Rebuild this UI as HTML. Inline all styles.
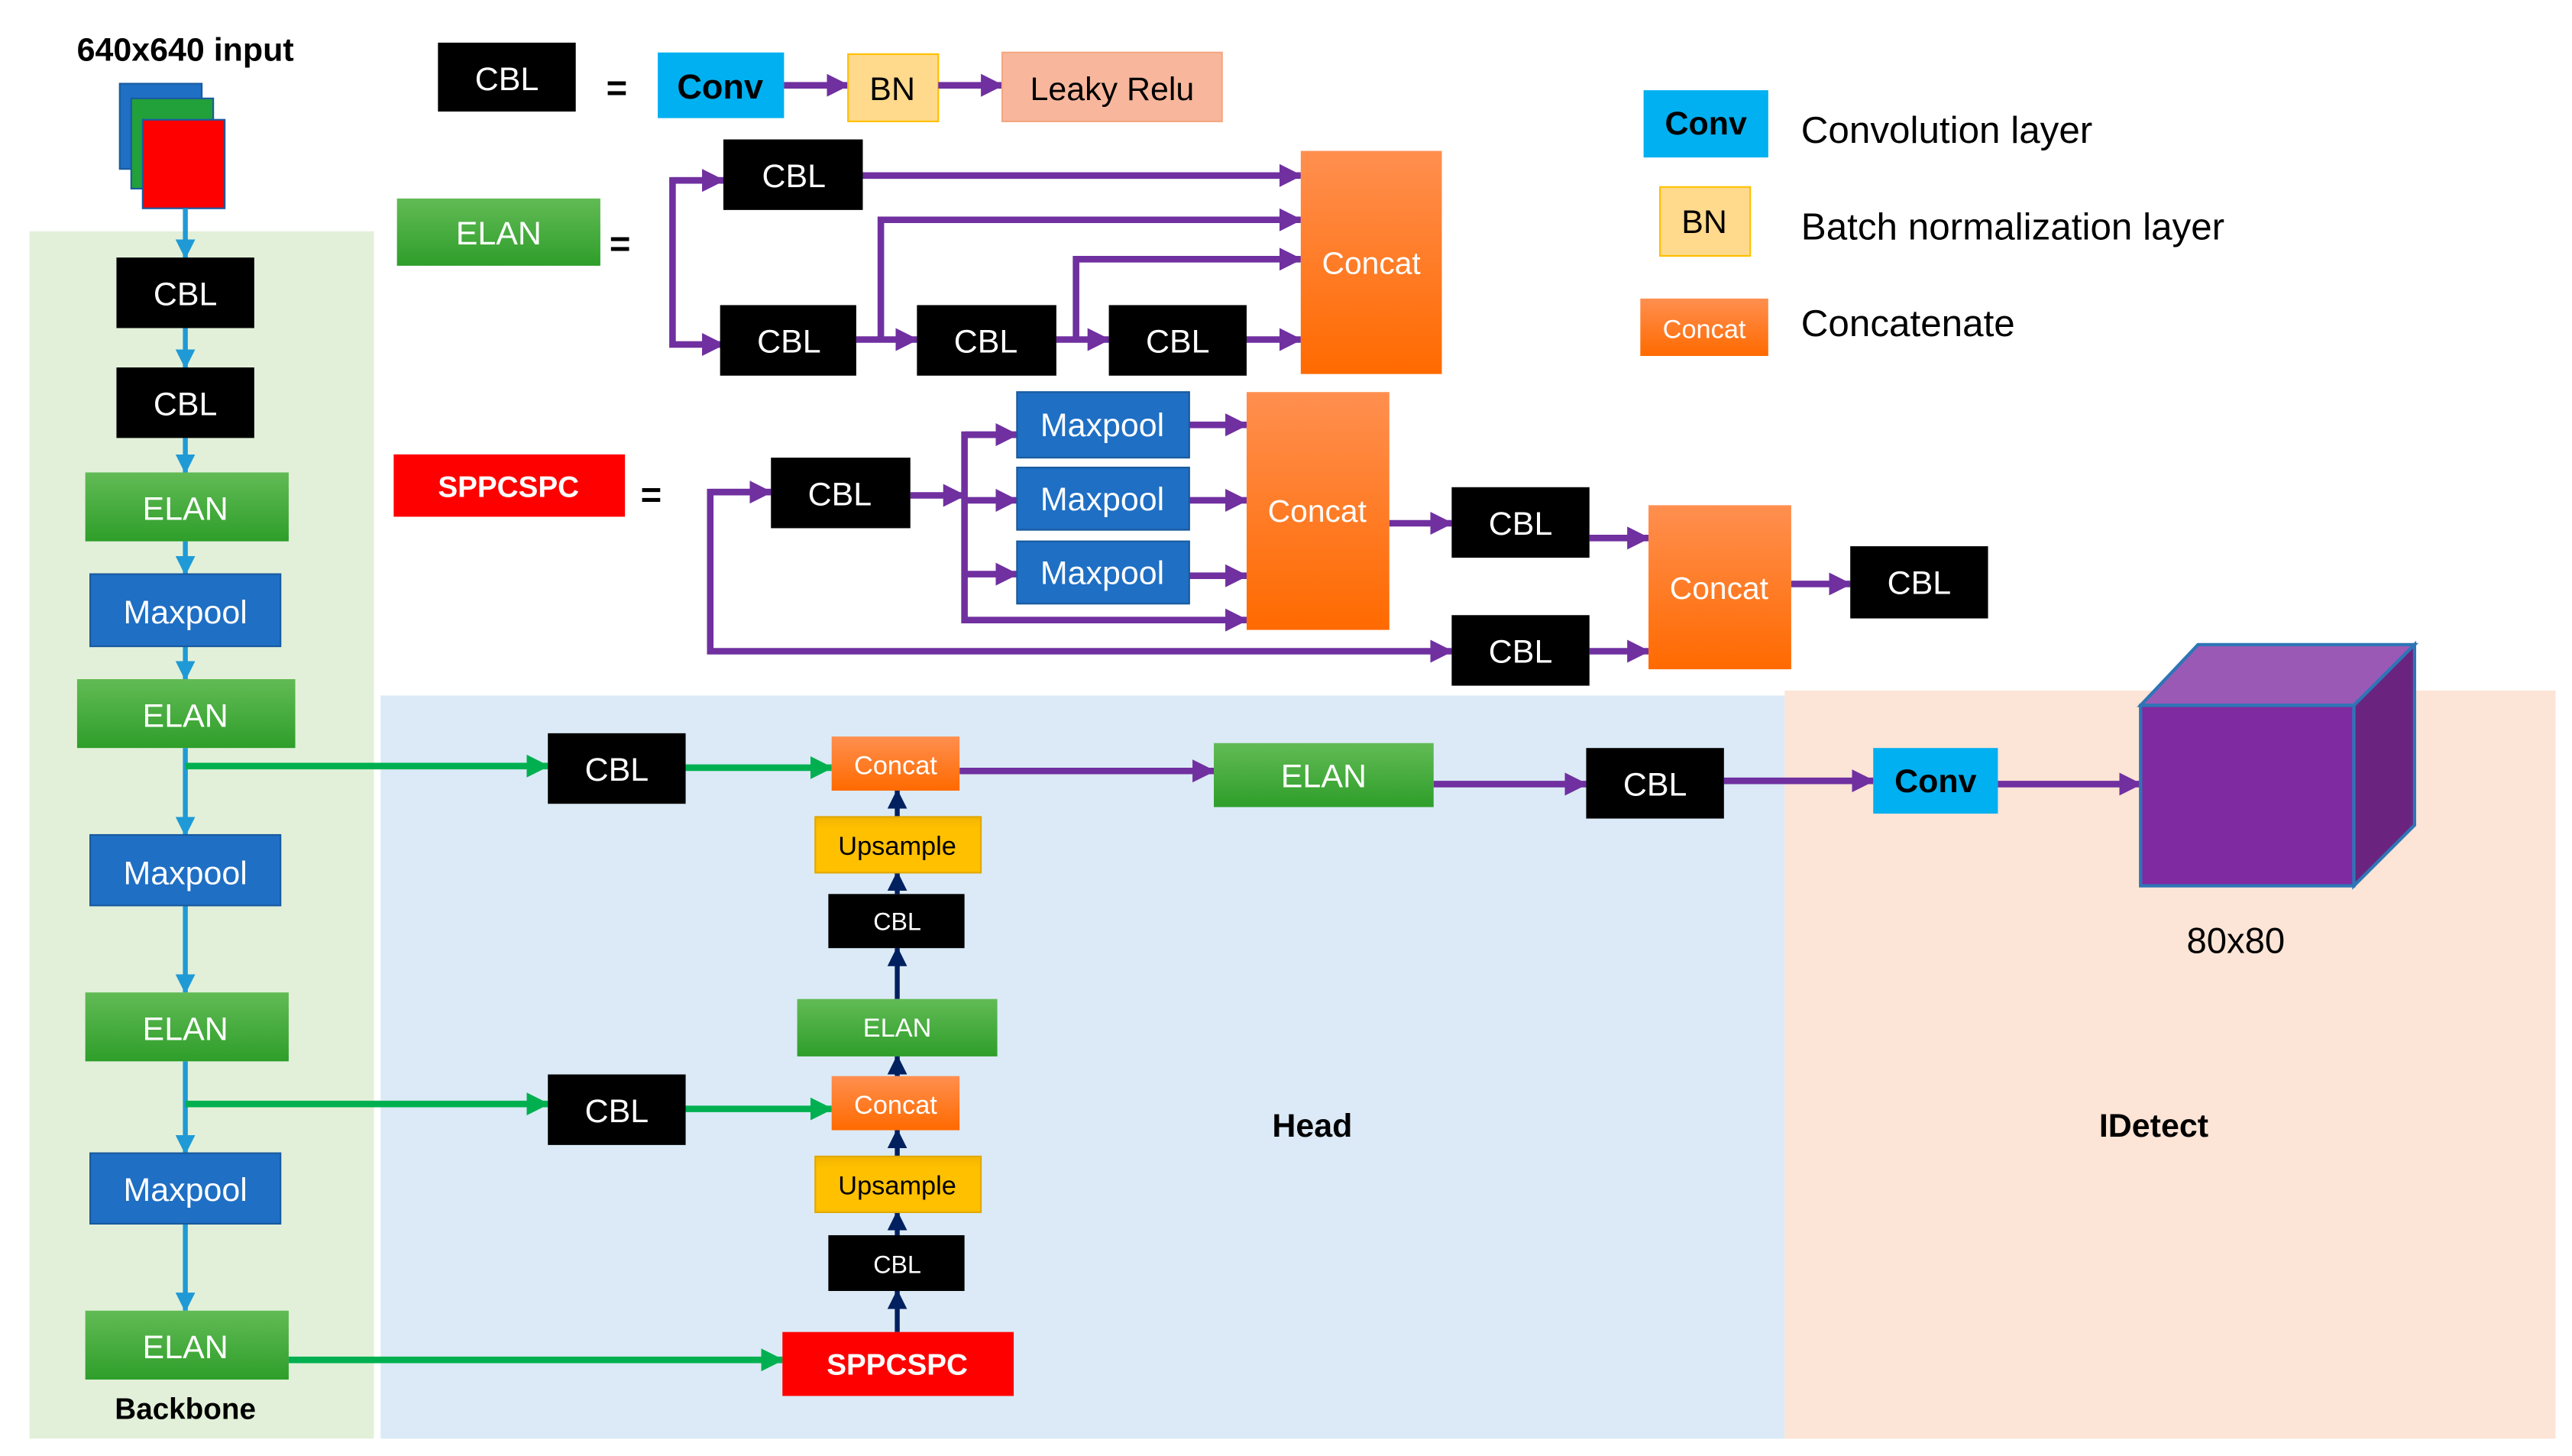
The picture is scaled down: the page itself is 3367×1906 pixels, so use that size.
<!DOCTYPE html>
<html><head><meta charset="utf-8"><style>
html,body{margin:0;padding:0;background:#fff;}
svg{display:block;}
text{font-family:"Liberation Sans",sans-serif;}
</style></head><body>
<svg width="3367" height="1906" viewBox="0 0 1568 887.6" preserveAspectRatio="none" xmlns="http://www.w3.org/2000/svg">
<defs>
<linearGradient id="gG" x1="0" y1="0" x2="0" y2="1"><stop offset="0" stop-color="#62bb55"/><stop offset="1" stop-color="#2e9e2a"/></linearGradient>
<linearGradient id="gO" x1="0" y1="0" x2="0" y2="1"><stop offset="0" stop-color="#ff8f4f"/><stop offset="1" stop-color="#ff6a00"/></linearGradient>
<linearGradient id="gY" x1="0" y1="0" x2="0" y2="1"><stop offset="0" stop-color="#f2b400"/><stop offset="0.2" stop-color="#ffc000"/><stop offset="1" stop-color="#ffc000"/></linearGradient>
<marker id="mP" markerUnits="userSpaceOnUse" markerWidth="14" markerHeight="14" refX="13" refY="7" orient="auto"><path d="M0,0 L14,7 L0,14 z" fill="#7030a0"/></marker>
<marker id="mG" markerUnits="userSpaceOnUse" markerWidth="14" markerHeight="14" refX="13" refY="7" orient="auto"><path d="M0,0 L14,7 L0,14 z" fill="#00b050"/></marker>
<marker id="mB" markerUnits="userSpaceOnUse" markerWidth="12" markerHeight="12" refX="11" refY="6" orient="auto"><path d="M0,0 L12,6 L0,12 z" fill="#1f9ad6"/></marker>
<marker id="mN" markerUnits="userSpaceOnUse" markerWidth="12" markerHeight="12" refX="11" refY="6" orient="auto"><path d="M0,0 L12,6 L0,12 z" fill="#002060"/></marker>
</defs>

<!-- panels -->
<rect x="18" y="141" width="210" height="736" fill="#e2f0d9"/>
<rect x="232" y="424" width="856" height="453" fill="#dbeaf6"/>
<rect x="1088" y="421" width="470" height="456" fill="#fce4d6"/>

<!-- input -->
<text x="113" y="37" font-size="20" font-weight="bold" text-anchor="middle">640x640 input</text>
<rect x="73" y="51" width="50" height="52" fill="#1f6fc4" stroke="#1a5aa0"/>
<rect x="80" y="60" width="50" height="55" fill="#22a03a" stroke="#1a5aa0"/>
<rect x="87" y="73" width="50" height="54" fill="#ff0000" stroke="#1a5aa0"/>

<!-- backbone arrows -->
<g stroke="#1f9ad6" stroke-width="3" fill="none" marker-end="url(#mB)">
<line x1="113" y1="127" x2="113" y2="157"/>
<line x1="113" y1="200" x2="113" y2="224"/>
<line x1="113" y1="267" x2="113" y2="288"/>
<line x1="113" y1="330" x2="113" y2="350"/>
<line x1="113" y1="394" x2="113" y2="414"/>
<line x1="113" y1="456" x2="113" y2="509"/>
<line x1="113" y1="552" x2="113" y2="605"/>
<line x1="113" y1="647" x2="113" y2="703"/>
<line x1="113" y1="746" x2="113" y2="799"/>
</g>

<!-- backbone nodes -->
<g font-size="20" text-anchor="middle" fill="#fff">
<rect x="71" y="157" width="84" height="43" fill="#000"/><text x="113" y="186">CBL</text>
<rect x="71" y="224" width="84" height="43" fill="#000"/><text x="113" y="253">CBL</text>
<rect x="52" y="288" width="124" height="42" fill="url(#gG)"/><text x="113" y="317">ELAN</text>
<rect x="55" y="350" width="116" height="44" fill="#1f6fc4" stroke="#185a9e"/><text x="113" y="380">Maxpool</text>
<rect x="47" y="414" width="133" height="42" fill="url(#gG)"/><text x="113" y="443">ELAN</text>
<rect x="55" y="509" width="116" height="43" fill="#1f6fc4" stroke="#185a9e"/><text x="113" y="539">Maxpool</text>
<rect x="52" y="605" width="124" height="42" fill="url(#gG)"/><text x="113" y="634">ELAN</text>
<rect x="55" y="703" width="116" height="43" fill="#1f6fc4" stroke="#185a9e"/><text x="113" y="732">Maxpool</text>
<rect x="52" y="799" width="124" height="42" fill="url(#gG)"/><text x="113" y="828">ELAN</text>
</g>
<text x="113" y="865" font-size="18" font-weight="bold" text-anchor="middle">Backbone</text>

<!-- CBL legend -->
<rect x="267" y="26" width="84" height="42" fill="#000"/><text x="309" y="55" font-size="20" fill="#fff" text-anchor="middle">CBL</text>
<text x="376" y="61" font-size="22" font-weight="bold" text-anchor="middle">=</text>
<rect x="401" y="32" width="77" height="40" fill="#00b0f0"/><text x="439" y="60" font-size="21" font-weight="bold" text-anchor="middle">Conv</text>
<line x1="478" y1="52" x2="517" y2="52" stroke="#7030a0" stroke-width="4" marker-end="url(#mP)"/>
<rect x="517" y="33" width="55" height="41" fill="#ffd98c" stroke="#ffc000"/><text x="544" y="61" font-size="20" text-anchor="middle">BN</text>
<line x1="572" y1="52" x2="611" y2="52" stroke="#7030a0" stroke-width="4" marker-end="url(#mP)"/>
<rect x="611" y="32" width="134" height="42" fill="#f8b79c" stroke="#f4a882"/><text x="678" y="61" font-size="20" text-anchor="middle">Leaky Relu</text>

<!-- ELAN def -->
<rect x="242" y="121" width="124" height="41" fill="url(#gG)"/><text x="304" y="149" font-size="20" fill="#fff" text-anchor="middle">ELAN</text>
<text x="378" y="156" font-size="22" font-weight="bold" text-anchor="middle">=</text>
<g stroke="#7030a0" stroke-width="4" fill="none">
<polyline points="441,110 410,110 410,210 441,210" stroke-width="4" marker-end="url(#mP)"/>
<line x1="410" y1="110" x2="441" y2="110" marker-end="url(#mP)"/>
<line x1="526" y1="107" x2="793" y2="107" marker-end="url(#mP)"/>
<polyline points="537,207 537,134 793,134" marker-end="url(#mP)"/>
<polyline points="656,207 656,158 793,158" marker-end="url(#mP)"/>
<line x1="522" y1="207" x2="559" y2="207" marker-end="url(#mP)"/>
<line x1="644" y1="207" x2="676" y2="207" marker-end="url(#mP)"/>
<line x1="760" y1="207" x2="793" y2="207" marker-end="url(#mP)"/>
</g>
<g font-size="20" fill="#fff" text-anchor="middle">
<rect x="441" y="85" width="85" height="43" fill="#000"/><text x="484" y="114">CBL</text>
<rect x="439" y="186" width="83" height="43" fill="#000"/><text x="481" y="215">CBL</text>
<rect x="559" y="186" width="85" height="43" fill="#000"/><text x="601" y="215">CBL</text>
<rect x="676" y="186" width="84" height="43" fill="#000"/><text x="718" y="215">CBL</text>
<rect x="793" y="92" width="86" height="136" fill="url(#gO)"/><text x="836" y="167" font-size="19">Concat</text>
</g>

<!-- SPPCSPC def -->
<rect x="240" y="277" width="141" height="38" fill="#ff0000"/><text x="310" y="303" font-size="18" font-weight="bold" fill="#fff" text-anchor="middle">SPPCSPC</text>
<text x="397" y="309" font-size="22" font-weight="bold" text-anchor="middle">=</text>
<g stroke="#7030a0" stroke-width="4" fill="none">
<polyline points="470,300 433,300 433,397 885,397" marker-end="url(#mP)"/>
<line x1="433" y1="300" x2="470" y2="300" marker-end="url(#mP)"/>
<line x1="555" y1="302" x2="588" y2="302" marker-end="url(#mP)"/>
<polyline points="620,265 588,265 588,378 760,378" marker-end="url(#mP)"/>
<line x1="588" y1="265" x2="620" y2="265" marker-end="url(#mP)"/>
<line x1="588" y1="305" x2="620" y2="305" marker-end="url(#mP)"/>
<line x1="588" y1="350" x2="620" y2="350" marker-end="url(#mP)"/>
<line x1="725" y1="259" x2="760" y2="259" marker-end="url(#mP)"/>
<line x1="725" y1="305" x2="760" y2="305" marker-end="url(#mP)"/>
<line x1="725" y1="351" x2="760" y2="351" marker-end="url(#mP)"/>
<line x1="847" y1="319" x2="885" y2="319" marker-end="url(#mP)"/>
<line x1="969" y1="328" x2="1005" y2="328" marker-end="url(#mP)"/>
<line x1="969" y1="397" x2="1005" y2="397" marker-end="url(#mP)"/>
<line x1="1092" y1="356" x2="1128" y2="356" marker-end="url(#mP)"/>
</g>
<g font-size="20" fill="#fff" text-anchor="middle">
<rect x="470" y="279" width="85" height="43" fill="#000"/><text x="512" y="308">CBL</text>
<rect x="620" y="239" width="105" height="40" fill="#1f6fc4" stroke="#185a9e"/><text x="672" y="266">Maxpool</text>
<rect x="620" y="285" width="105" height="38" fill="#1f6fc4" stroke="#185a9e"/><text x="672" y="311">Maxpool</text>
<rect x="620" y="330" width="105" height="38" fill="#1f6fc4" stroke="#185a9e"/><text x="672" y="356">Maxpool</text>
<rect x="760" y="239" width="87" height="145" fill="url(#gO)"/><text x="803" y="318" font-size="19">Concat</text>
<rect x="885" y="297" width="84" height="43" fill="#000"/><text x="927" y="326">CBL</text>
<rect x="885" y="375" width="84" height="43" fill="#000"/><text x="927" y="404">CBL</text>
<rect x="1005" y="308" width="87" height="100" fill="url(#gO)"/><text x="1048" y="365" font-size="19">Concat</text>
<rect x="1128" y="333" width="84" height="44" fill="#000"/><text x="1170" y="362">CBL</text>
</g>

<!-- right legend -->
<rect x="1002" y="55" width="76" height="41" fill="#00b0f0"/><text x="1040" y="82" font-size="20" font-weight="bold" text-anchor="middle">Conv</text>
<text x="1098" y="87" font-size="23">Convolution layer</text>
<rect x="1012" y="114" width="55" height="42" fill="#ffd98c" stroke="#ffc000"/><text x="1039" y="142" font-size="20" text-anchor="middle">BN</text>
<text x="1098" y="146" font-size="23">Batch normalization layer</text>
<rect x="1000" y="182" width="78" height="35" fill="url(#gO)"/><text x="1039" y="206" font-size="16" fill="#fff" text-anchor="middle">Concat</text>
<text x="1098" y="205" font-size="23">Concatenate</text>

<!-- head connectors -->
<g stroke="#00b050" stroke-width="4" fill="none">
<line x1="113" y1="467" x2="334" y2="467" marker-end="url(#mG)"/>
<line x1="418" y1="468" x2="507" y2="468" marker-end="url(#mG)"/>
<line x1="113" y1="673" x2="334" y2="673" marker-end="url(#mG)"/>
<line x1="418" y1="676" x2="507" y2="676" marker-end="url(#mG)"/>
<line x1="176" y1="829" x2="477" y2="829" marker-end="url(#mG)"/>
</g>
<g stroke="#7030a0" stroke-width="4" fill="none">
<line x1="585" y1="470" x2="740" y2="470" marker-end="url(#mP)"/>
<line x1="874" y1="478" x2="967" y2="478" marker-end="url(#mP)"/>
<line x1="1051" y1="476" x2="1142" y2="476" marker-end="url(#mP)"/>
<line x1="1218" y1="478" x2="1305" y2="478" marker-end="url(#mP)"/>
</g>
<g stroke="#002060" stroke-width="3" fill="none" marker-end="url(#mN)">
<line x1="547" y1="498" x2="547" y2="482"/>
<line x1="547" y1="545" x2="547" y2="532"/>
<line x1="547" y1="609" x2="547" y2="578"/>
<line x1="547" y1="656" x2="547" y2="644"/>
<line x1="547" y1="705" x2="547" y2="689"/>
<line x1="547" y1="753" x2="547" y2="739"/>
<line x1="547" y1="812" x2="547" y2="787"/>
</g>
<g font-size="20" fill="#fff" text-anchor="middle">
<rect x="334" y="447" width="84" height="43" fill="#000"/><text x="376" y="476">CBL</text>
<rect x="334" y="655" width="84" height="43" fill="#000"/><text x="376" y="684">CBL</text>
<rect x="507" y="449" width="78" height="33" fill="url(#gO)"/><text x="546" y="472" font-size="16">Concat</text>
<rect x="497" y="498" width="101" height="34" fill="url(#gY)" stroke="#e0a800"/><text x="547" y="521" font-size="16" fill="#000">Upsample</text>
<rect x="505" y="545" width="83" height="33" fill="#000"/><text x="547" y="567" font-size="15">CBL</text>
<rect x="486" y="609" width="122" height="35" fill="url(#gG)"/><text x="547" y="632" font-size="16">ELAN</text>
<rect x="507" y="656" width="78" height="33" fill="url(#gO)"/><text x="546" y="679" font-size="16">Concat</text>
<rect x="497" y="705" width="101" height="34" fill="url(#gY)" stroke="#e0a800"/><text x="547" y="728" font-size="16" fill="#000">Upsample</text>
<rect x="505" y="753" width="83" height="34" fill="#000"/><text x="547" y="776" font-size="15">CBL</text>
<rect x="477" y="812" width="141" height="39" fill="#ff0000"/><text x="547" y="838" font-size="18" font-weight="bold">SPPCSPC</text>
<rect x="740" y="453" width="134" height="39" fill="url(#gG)"/><text x="807" y="480">ELAN</text>
<rect x="967" y="456" width="84" height="43" fill="#000"/><text x="1009" y="485">CBL</text>
<rect x="1142" y="456" width="76" height="40" fill="#00b0f0"/><text x="1180" y="483" font-weight="bold" fill="#000">Conv</text>
</g>

<!-- cube -->
<polygon points="1305,430 1340,393 1472,393 1435,430" fill="#9b59b6" stroke="#2e75b6" stroke-width="2"/>
<polygon points="1435,430 1472,393 1472,503 1435,540" fill="#6a2480" stroke="#2e75b6" stroke-width="2"/>
<rect x="1305" y="430" width="130" height="110" fill="#7f2aa0" stroke="#2e75b6" stroke-width="2"/>
<text x="1363" y="581" font-size="22" text-anchor="middle">80x80</text>

<text x="800" y="693" font-size="20" font-weight="bold" text-anchor="middle">Head</text>
<text x="1313" y="693" font-size="20" font-weight="bold" text-anchor="middle">IDetect</text>
</svg>
</body></html>
